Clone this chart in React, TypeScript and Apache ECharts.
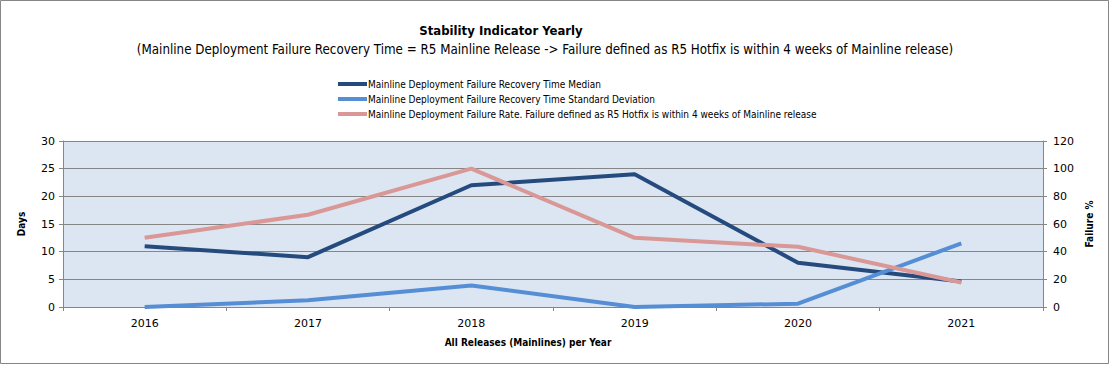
import React, { useEffect, useRef } from "react";
import * as echarts from "echarts";

const years = ["2016", "2017", "2018", "2019", "2020", "2021"];
const medianDays = [11, 9, 22, 24, 8, 4.6];
const stdDevDays = [0, 1.2, 3.9, 0, 0.6, 11.5];
const failureRate = [50, 66.7, 100, 50, 43.5, 17.7];

const leftTicks = { min: 0, max: 30, interval: 5 };
const rightTicks = { min: 0, max: 120, interval: 20 };

const names = [
  "Mainline Deployment Failure Recovery Time Median",
  "Mainline Deployment Failure Recovery Time Standard Deviation",
  "Mainline Deployment Failure Rate. Failure defined as R5 Hotfix is within 4 weeks of Mainline release",
];

const FONT = "'Liberation Sans Narrow', 'DejaVu Sans Condensed', 'Open Sans', sans-serif";
const AXIS_FONT = "'DejaVu Sans', Verdana, sans-serif";

export default function App() {
  const ref = useRef<HTMLDivElement>(null);
  useEffect(() => {
    document.body.style.margin = "0";
    const chart = echarts.init(ref.current!, null, { renderer: "svg" });
    const axisLine = { show: true, lineStyle: { color: "#868686", width: 1 } };
    chart.setOption({
      animation: false,
      backgroundColor: "#ffffff",
      graphic: [
        {
          type: "rect",
          shape: { x: 0.5, y: 0.5, width: 1108, height: 363 },
          style: { fill: "none", stroke: "#868686", lineWidth: 1 },
          silent: true,
        },
        {
          type: "text",
          x: 501,
          y: 30,
          style: {
            text: "Stability Indicator Yearly",
            font: `bold 13px ${FONT}`,
            fill: "#000",
            align: "center",
            verticalAlign: "middle",
          },
        },
        {
          type: "text",
          x: 545,
          y: 49,
          style: {
            text: "(Mainline Deployment Failure Recovery Time = R5 Mainline Release -> Failure defined as R5 Hotfix is within 4 weeks of Mainline release)",
            font: `13.25px ${FONT}`,
            fill: "#000",
            align: "center",
            verticalAlign: "middle",
          },
        },
      ],
      legend: {
        orient: "vertical",
        left: 333,
        top: 73,
        itemWidth: 29,
        itemHeight: 4,
        itemGap: 3,
        icon: "rect",
        align: "left",
        textStyle: { fontFamily: FONT, fontSize: 10, color: "#000", lineHeight: 12, padding: [0, 0, 0, -4] },
        data: names,
      },
      grid: { left: 63, right: 67, top: 141, bottom: 58, show: true, backgroundColor: "#dce6f2", borderWidth: 0 },
      xAxis: {
        type: "category",
        data: years,
        boundaryGap: true,
        axisLine,
        axisTick: { show: true, length: 4, lineStyle: { color: "#868686" }, interval: 0 },
        axisLabel: { fontFamily: AXIS_FONT, fontSize: 11, color: "#000", margin: 11 },
        name: "All Releases (Mainlines) per Year",
        nameLocation: "middle",
        nameGap: 30,
        nameTextStyle: { fontFamily: FONT, fontSize: 10, fontWeight: "bold", color: "#000", padding: [0, 50, 0, 0] },
        splitLine: { show: false },
      },
      yAxis: [
        {
          type: "value",
          ...leftTicks,
          position: "left",
          axisLine,
          axisTick: { show: true, length: 4, lineStyle: { color: "#868686" } },
          axisLabel: { fontFamily: AXIS_FONT, fontSize: 11, color: "#000", margin: 8 },
          splitLine: { show: true, lineStyle: { color: "#868686", width: 1 } },
          name: "Days",
          nameLocation: "middle",
          nameGap: 37,
          nameRotate: 90,
          nameTextStyle: { fontFamily: FONT, fontSize: 10, fontWeight: "bold", color: "#000" },
        },
        {
          type: "value",
          ...rightTicks,
          position: "right",
          axisLine,
          axisTick: { show: true, length: 4, lineStyle: { color: "#868686" } },
          axisLabel: { fontFamily: AXIS_FONT, fontSize: 11, color: "#000", margin: 10 },
          splitLine: { show: false },
          name: "Failure %",
          nameLocation: "middle",
          nameGap: 38,
          nameRotate: 90,
          nameTextStyle: { fontFamily: FONT, fontSize: 10, fontWeight: "bold", color: "#000" },
        },
      ],
      series: [
        {
          name: names[0],
          type: "line",
          data: medianDays,
          yAxisIndex: 0,
          showSymbol: false,
          symbol: "none",
          color: "#254b7e",
          lineStyle: { width: 4, color: "#254b7e" },
        },
        {
          name: names[1],
          type: "line",
          data: stdDevDays,
          yAxisIndex: 0,
          showSymbol: false,
          symbol: "none",
          color: "#558ed5",
          lineStyle: { width: 4, color: "#558ed5" },
        },
        {
          name: names[2],
          type: "line",
          data: failureRate,
          yAxisIndex: 1,
          showSymbol: false,
          symbol: "none",
          color: "#d99795",
          lineStyle: { width: 4, color: "#d99795" },
        },
      ],
    });
    return () => chart.dispose();
  }, []);
  return <div ref={ref} style={{ width: 1110, height: 365 }} />;
}
